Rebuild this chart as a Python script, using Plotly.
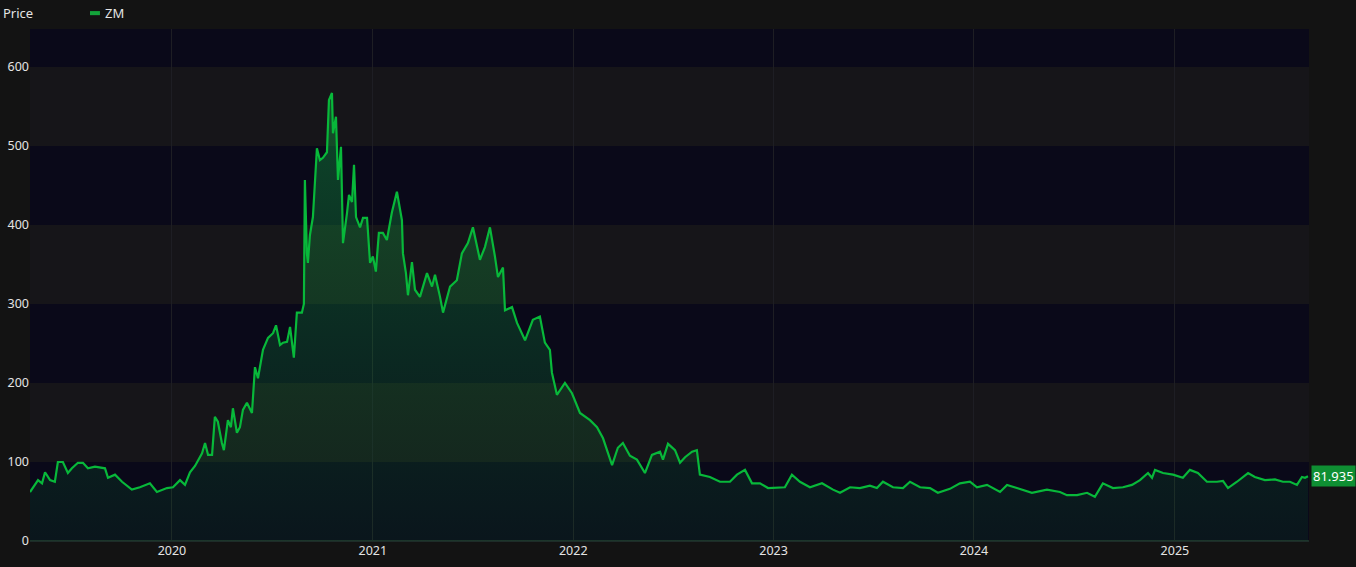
import pandas as pd
import plotly.graph_objects as go

# ---- data ----
ticker = "ZM"
# time as decimal years
years_frac = [
    2019.292, 2019.307, 2019.332, 2019.352, 2019.367, 2019.392, 2019.416, 2019.431, 2019.456, 2019.481,
    2019.501, 2019.531, 2019.556, 2019.581, 2019.616, 2019.666, 2019.681, 2019.716, 2019.751, 2019.800,
    2019.840, 2019.890, 2019.925, 2019.975, 2020.005, 2020.040, 2020.065, 2020.090, 2020.115, 2020.150,
    2020.165, 2020.180, 2020.200, 2020.214, 2020.229, 2020.249, 2020.259, 2020.279, 2020.294, 2020.304,
    2020.324, 2020.339, 2020.354, 2020.374, 2020.399, 2020.414, 2020.429, 2020.454, 2020.479, 2020.504,
    2020.519, 2020.539, 2020.554, 2020.574, 2020.589, 2020.608, 2020.623, 2020.648, 2020.658, 2020.663,
    2020.673, 2020.678, 2020.688, 2020.703, 2020.723, 2020.738, 2020.753, 2020.773, 2020.783, 2020.798,
    2020.803, 2020.818, 2020.828, 2020.843, 2020.853, 2020.873, 2020.883, 2020.898, 2020.908, 2020.918,
    2020.938, 2020.953, 2020.973, 2020.988, 2021.002, 2021.017, 2021.032, 2021.052, 2021.072, 2021.097,
    2021.122, 2021.147, 2021.152, 2021.167, 2021.177, 2021.197, 2021.212, 2021.237, 2021.272, 2021.297,
    2021.312, 2021.337, 2021.352, 2021.387, 2021.421, 2021.446, 2021.476, 2021.501, 2021.536, 2021.561,
    2021.586, 2021.611, 2021.626, 2021.651, 2021.661, 2021.696, 2021.721, 2021.761, 2021.800, 2021.835,
    2021.860, 2021.885, 2021.895, 2021.920, 2021.960, 2021.995, 2022.035, 2022.085, 2022.120, 2022.150,
    2022.195, 2022.224, 2022.249, 2022.284, 2022.319, 2022.359, 2022.394, 2022.434, 2022.449, 2022.474,
    2022.509, 2022.534, 2022.559, 2022.594, 2022.618, 2022.633, 2022.683, 2022.733, 2022.783, 2022.818,
    2022.858, 2022.893, 2022.933, 2022.973, 2023.017, 2023.057, 2023.092, 2023.132, 2023.182, 2023.242,
    2023.297, 2023.332, 2023.382, 2023.431, 2023.481, 2023.516, 2023.546, 2023.596, 2023.646, 2023.681,
    2023.731, 2023.781, 2023.820, 2023.880, 2023.930, 2023.980, 2024.015, 2024.065, 2024.130, 2024.165,
    2024.214, 2024.289, 2024.364, 2024.429, 2024.464, 2024.514, 2024.564, 2024.603, 2024.643, 2024.693,
    2024.743, 2024.788, 2024.828, 2024.868, 2024.888, 2024.903, 2024.943, 2024.993, 2025.042, 2025.077,
    2025.117, 2025.162, 2025.212, 2025.242, 2025.267, 2025.312, 2025.367, 2025.401, 2025.451, 2025.501,
    2025.541, 2025.576, 2025.611, 2025.636, 2025.651, 2025.666,
]
prices = [
    62, 68, 77, 73, 87, 77, 75, 100, 100, 86,
    92, 99, 99, 92, 94, 92, 80, 84, 75, 65,
    68, 73, 62, 67, 68, 77, 71, 87, 95, 111,
    124, 109, 109, 157, 151, 124, 115, 153, 144, 168,
    137, 144, 166, 175, 162, 220, 206, 242, 257, 263,
    273, 248, 251, 252, 271, 232, 289, 289, 300, 457,
    364, 352, 387, 410, 497, 482, 485, 492, 558, 567,
    516, 537, 457, 499, 377, 415, 438, 429, 476, 410,
    397, 409, 409, 352, 360, 341, 390, 390, 381, 416,
    442, 406, 364, 339, 311, 353, 318, 309, 339, 322,
    337, 309, 289, 322, 330, 364, 377, 397, 356, 372,
    397, 360, 334, 346, 292, 296, 276, 254, 280, 284,
    251, 242, 213, 185, 200, 187, 162, 153, 144, 130,
    96, 118, 124, 108, 103, 86, 109, 113, 103, 123,
    115, 99, 106, 113, 115, 84, 81, 75, 75, 84,
    90, 73, 73, 67, 68, 68, 84, 75, 68, 73,
    65, 61, 68, 67, 70, 67, 75, 68, 67, 75,
    68, 67, 61, 66, 73, 75, 68, 71, 62, 71,
    67, 61, 65, 62, 58, 58, 61, 56, 73, 67,
    68, 71, 77, 86, 80, 90, 86, 84, 80, 90,
    86, 75, 75, 76, 67, 75, 86, 81, 77, 78,
    75, 75, 71, 81, 80, 81.935,
]
y_ticks = [0, 100, 200, 300, 400, 500, 600]
x_tick_years = [2020, 2021, 2022, 2023, 2024, 2025]

# ---- styles ----
BG = "#131313"
BAND_DARK = "#0a0919"
BAND_GRAY = "#161519"
LINE = "#08b83a"
TXT = "#e4e4e4"
FONT = "Noto Sans"

base = pd.Timestamp("2020-01-01")
def to_date(yf):
    return base + pd.to_timedelta((yf - 2020) * 365.25, unit="D")

dates = [to_date(v) for v in years_frac]
x_end = to_date(2025.671)

fig = go.Figure()
fig.add_trace(go.Scatter(
    x=dates, y=prices, mode="lines",
    line=dict(color=LINE, width=2.2),
    fill="tozeroy",
    fillgradient=dict(type="vertical", start=0, stop=570,
                      colorscale=[[0, "rgba(10,150,60,0.09)"], [1, "rgba(20,175,70,0.38)"]]),
    name=ticker, showlegend=False, hoverinfo="x+y",
))

# alternating horizontal bands
shapes = []
for lo in range(100, 700, 200):
    shapes.append(dict(type="rect", xref="paper", x0=0, x1=1, yref="y", y0=lo, y1=lo + 100,
                       fillcolor=BAND_GRAY, line=dict(width=0), layer="below"))
# legend swatch
shapes.append(dict(type="rect", xref="paper", yref="paper", x0=0.0469, x1=0.0547, y0=1.027, y1=1.035,
                   fillcolor="#13a33a", line=dict(width=0)))

annotations = [
    dict(text="Price", xref="paper", yref="paper", x=-0.0228, y=1.032, xanchor="left", yanchor="middle",
         showarrow=False, font=dict(color=TXT, size=13, family=FONT)),
    dict(text=ticker, xref="paper", yref="paper", x=0.0572, y=1.032, xanchor="left", yanchor="middle",
         showarrow=False, font=dict(color=TXT, size=13, family=FONT)),
    dict(text=f"{prices[-1]:.3f}", xref="paper", yref="y", x=1.0012, y=prices[-1], xanchor="left",
         yanchor="middle", showarrow=False, bgcolor="#0f8f33", borderpad=1,
         font=dict(color="white", size=13, family=FONT)),
]

fig.update_layout(
    width=1356, height=567,
    paper_bgcolor=BG, plot_bgcolor=BAND_DARK,
    margin=dict(l=30, r=47, t=29, b=26),
    shapes=shapes, annotations=annotations,
    font=dict(family=FONT, color=TXT, size=12),
    xaxis=dict(
        type="date", range=[dates[0], x_end], automargin=False,
        tickvals=[pd.Timestamp(f"{y}-01-01") for y in x_tick_years],
        ticktext=[str(y) for y in x_tick_years],
        showgrid=True, gridcolor="#1e1e24", gridwidth=1,
        zeroline=False, showline=False, ticks="",
        tickfont=dict(color=TXT, size=12.5, family=FONT),
    ),
    yaxis=dict(
        range=[0, 648], tickvals=y_ticks, showgrid=False, automargin=False,
        zeroline=True, zerolinecolor="#1e2c29", zerolinewidth=2,
        ticks="", tickfont=dict(color=TXT, size=12.5, family=FONT),
    ),
    showlegend=False,
)

fig.write_html(
    "out.html",
    config={"displayModeBar": False},
    post_script="document.body.style.margin='0';document.body.style.background='#131313';"
                "document.body.style.overflow='hidden';",
)
